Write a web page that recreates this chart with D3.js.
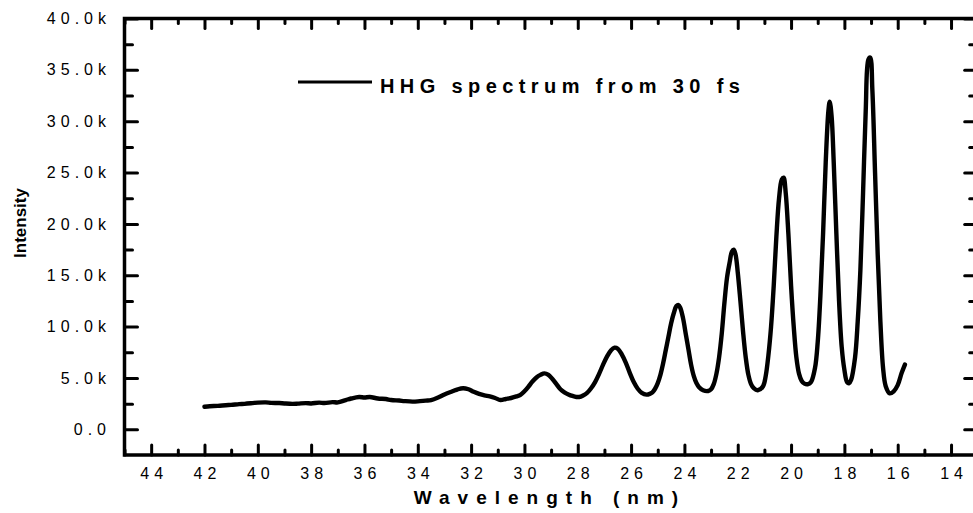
<!DOCTYPE html>
<html>
<head>
<meta charset="utf-8">
<script src="https://cdn.jsdelivr.net/npm/d3@7"></script>
<style>
  body { margin: 0; background: #fff; }
  svg { display: block; }
  text { font-family: "Liberation Sans", Arial, sans-serif; fill: #000; }
</style>
</head>
<body>
<svg id="chart" width="973" height="513"></svg>
<script>
// HHG spectrum: wavelength (nm) vs intensity (counts)
const wavelength = [
  42.0, 41.8, 41.5, 41.2, 41.0, 40.7, 40.5, 40.2, 40.0, 39.7, 39.5, 39.2, 39.0, 38.7, 38.5, 38.2,
  38.0, 37.7, 37.5, 37.2, 37.0, 36.7, 36.5, 36.2, 36.0, 35.8, 35.5, 35.2, 35.0, 34.7, 34.5, 34.2,
  34.0, 33.7, 33.5, 33.2, 33.0, 32.7, 32.5, 32.3, 32.1, 31.9, 31.7, 31.5, 31.3, 31.1, 30.9, 30.7,
  30.5, 30.3, 30.15, 30.0, 29.85, 29.7, 29.55, 29.4, 29.25, 29.1, 28.95, 28.8, 28.65, 28.5, 28.35,
  28.2, 28.05, 27.95, 27.8, 27.65, 27.5, 27.35, 27.2, 27.05, 26.9, 26.75, 26.62, 26.5, 26.35, 26.2,
  26.05, 25.9, 25.75, 25.6, 25.42, 25.3, 25.2, 25.1, 25.0, 24.9, 24.8, 24.7, 24.6, 24.5, 24.4,
  24.3, 24.22, 24.15, 24.05, 23.95, 23.85, 23.75, 23.65, 23.55, 23.45, 23.3, 23.11, 23.0, 22.9,
  22.8, 22.7, 22.6, 22.5, 22.4, 22.3, 22.22, 22.15, 22.08, 22.0, 21.9, 21.8, 21.7, 21.6, 21.5,
  21.4, 21.25, 21.05, 20.95, 20.85, 20.75, 20.65, 20.55, 20.45, 20.35, 20.28, 20.2, 20.1, 20.0,
  19.9, 19.8, 19.7, 19.6, 19.5, 19.36, 19.25, 19.1, 19.0, 18.9, 18.8, 18.7, 18.6, 18.55, 18.48,
  18.4, 18.3, 18.2, 18.1, 18.0, 17.9, 17.82, 17.75, 17.6, 17.5, 17.4, 17.3, 17.2, 17.1, 17.03,
  16.95, 16.85, 16.75, 16.65, 16.55, 16.45, 16.3, 16.15, 16.0, 15.85, 15.73
];
const intensity = [
  2200, 2250, 2280, 2350, 2380, 2450, 2480, 2550, 2600, 2620, 2580, 2560, 2520, 2480, 2500, 2550,
  2520, 2600, 2560, 2650, 2620, 2850, 3000, 3150, 3100, 3150, 3000, 2950, 2850, 2800, 2750, 2700,
  2720, 2800, 2850, 3150, 3400, 3700, 3900, 4000, 3900, 3650, 3450, 3300, 3200, 3050, 2850, 2950,
  3050, 3200, 3350, 3700, 4150, 4650, 5050, 5300, 5450, 5300, 4900, 4400, 3900, 3600, 3400,
  3250, 3150, 3150, 3300, 3550, 4000, 4600, 5400, 6300, 7100, 7700, 7950, 7850, 7300, 6500,
  5500, 4600, 3950, 3550, 3380, 3450, 3600, 3950, 4500, 5300, 6400, 7700, 9000, 10300, 11300,
  12000, 12100, 11800, 10800, 9300, 7800, 6300, 5200, 4500, 4100, 3800, 3730, 3900, 4400,
  5400, 7000, 9300, 12300, 14800, 16300, 17300, 17500, 17000, 15300, 12500, 9500, 7000, 5300, 4400,
  4000, 3800, 4200, 5200, 7200, 10000, 14000, 18800, 22500, 24300, 24500, 23000, 19000, 14000,
  10000, 7000, 5400, 4700, 4450, 4400, 4600, 6000, 8500, 13000, 19000, 26000, 31000, 31900, 30500,
  26000, 19000, 12500, 8000, 5800, 4600, 4500, 4800, 7000, 10500, 15500, 23000, 31000, 36000, 36200,
  33000, 25000, 17000, 10500, 6000, 4200, 3500, 3700, 4300, 5500, 6300
];

const xMajorTicks = [44, 42, 40, 38, 36, 34, 32, 30, 28, 26, 24, 22, 20, 18, 16, 14];
const xMinorTicks = [45, 43, 41, 39, 37, 35, 33, 31, 29, 27, 25, 23, 21, 19, 17, 15, 13];
const yMajorTicks = [0, 5000, 10000, 15000, 20000, 25000, 30000, 35000, 40000];
const yMinorTicks = [2500, 7500, 12500, 17500, 22500, 27500, 32500, 37500];

const seriesName = "HHG spectrum from 30 fs";
const xTitle = "Wavelength (nm)";
const yTitle = "Intensity";

const svg = d3.select("#chart");

const plotLeft = 124.5, plotRight = 977.7, plotTop = 18.5, plotBottom = 455;
const x = d3.scaleLinear().domain([45, 13]).range([plotLeft, plotRight]);
const y = d3.scaleLinear().domain([-2500, 40000]).range([plotBottom, plotTop]);

const yFmt = v => v === 0 ? "0.0" : (v / 1000).toFixed(1) + "k";
const ls = 5; // tick label letter spacing

function styleAxis(g, w) {
  g.select(".domain").remove();
  g.selectAll(".tick line").attr("stroke", "#000").attr("stroke-width", w).attr("stroke-linecap", "round");
}

// bottom axis
svg.append("g").attr("transform", `translate(0,${plotBottom})`)
  .call(d3.axisBottom(x).tickValues(xMajorTicks).tickSize(-10).tickPadding(12.5).tickFormat(d3.format("d")))
  .call(g => styleAxis(g, 3))
  .call(g => g.selectAll("text").attr("font-size", 16).attr("letter-spacing", ls).attr("dx", ls / 2)
    .style("font-family", "'Liberation Sans', Arial, sans-serif"));
svg.append("g").attr("transform", `translate(0,${plotBottom})`)
  .call(d3.axisBottom(x).tickValues(xMinorTicks).tickSize(-5).tickFormat(""))
  .call(g => styleAxis(g, 3));

// top axis
svg.append("g").attr("transform", `translate(0,${plotTop})`)
  .call(d3.axisTop(x).tickValues(xMajorTicks).tickSize(-10).tickFormat(""))
  .call(g => styleAxis(g, 3));
svg.append("g").attr("transform", `translate(0,${plotTop})`)
  .call(d3.axisTop(x).tickValues(xMinorTicks).tickSize(-5).tickFormat(""))
  .call(g => styleAxis(g, 3));

// left axis
svg.append("g").attr("transform", `translate(${plotLeft},0)`)
  .call(d3.axisLeft(y).tickValues(yMajorTicks).tickSize(-13).tickPadding(13.5).tickFormat(yFmt))
  .call(g => styleAxis(g, 3))
  .call(g => g.selectAll("text").attr("font-size", 16).attr("letter-spacing", ls)
    .style("font-family", "'Liberation Sans', Arial, sans-serif"));
svg.append("g").attr("transform", `translate(${plotLeft},0)`)
  .call(d3.axisLeft(y).tickValues(yMinorTicks).tickSize(-8).tickFormat(""))
  .call(g => styleAxis(g, 3));

// right axis
svg.append("g").attr("transform", `translate(${plotRight},0)`)
  .call(d3.axisRight(y).tickValues(yMajorTicks).tickSize(-13).tickFormat(""))
  .call(g => styleAxis(g, 3));
svg.append("g").attr("transform", `translate(${plotRight},0)`)
  .call(d3.axisRight(y).tickValues(yMinorTicks).tickSize(-8).tickFormat(""))
  .call(g => styleAxis(g, 3));

// frame
svg.append("rect")
  .attr("x", plotLeft).attr("y", plotTop).attr("width", plotRight - plotLeft).attr("height", plotBottom - plotTop)
  .attr("fill", "none").attr("stroke", "#000").attr("stroke-width", 3.5);

// spectrum
const points = wavelength.map((w, i) => [w, intensity[i]]);
const line = d3.line().x(d => x(d[0])).y(d => y(d[1])).curve(d3.curveCatmullRom.alpha(0.5));
svg.append("path").datum(points)
  .attr("d", line)
  .attr("fill", "none").attr("stroke", "#000").attr("stroke-width", 4.4)
  .attr("stroke-linejoin", "round").attr("stroke-linecap", "round");

// legend
svg.append("line").attr("x1", 298).attr("x2", 372).attr("y1", 82).attr("y2", 82)
  .attr("stroke", "#000").attr("stroke-width", 3);
svg.append("text").attr("x", 380).attr("y", 92.5)
  .attr("font-size", 20).attr("font-weight", "bold").attr("letter-spacing", 5.4)
  .text(seriesName);

// axis titles
svg.append("text").attr("x", 546 + 4).attr("y", 504)
  .attr("text-anchor", "middle").attr("font-size", 19).attr("font-weight", "bold").attr("letter-spacing", 8)
  .text(xTitle);
svg.append("text").attr("transform", "translate(26,223) rotate(-90)")
  .attr("text-anchor", "middle").attr("font-size", 17).attr("font-weight", "bold")
  .text(yTitle);
</script>
</body>
</html>
